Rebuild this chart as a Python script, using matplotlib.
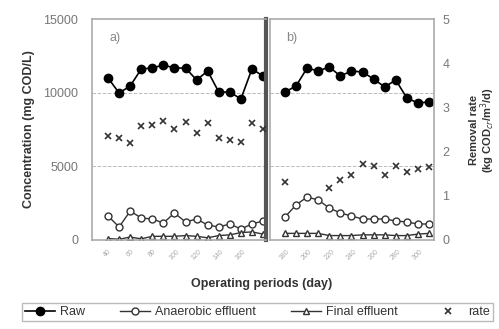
import matplotlib
matplotlib.use("Agg")
import matplotlib.pyplot as plt
import numpy as np

plt.rcParams['font.family'] = ['Liberation Sans', 'DejaVu Sans']

# panel a) data
raw_a = [10995, 9977, 10452, 11606, 11674, 11878, 11674, 11674, 10860, 11470, 10045, 10045, 9570, 11606, 11131]
anaer_a = [1629, 882, 1968, 1493, 1425, 1154, 1833, 1222, 1425, 1018, 882, 1086, 747, 1086, 1290]
final_a = [100, 50, 200, 80, 250, 250, 250, 300, 250, 150, 300, 350, 500, 550, 400]
rate_a = [2.35, 2.31, 2.19, 2.58, 2.60, 2.69, 2.51, 2.67, 2.42, 2.65, 2.31, 2.26, 2.22, 2.65, 2.51]
ticks_a = ["40", "60", "80", "100", "120", "140", "160"]

# panel b) data
raw_b = [10045, 10452, 11674, 11470, 11742, 11131, 11470, 11403, 10928, 10385, 10860, 9638, 9299, 9367]
anaer_b = [1561, 2376, 2919, 2715, 2172, 1833, 1629, 1425, 1425, 1425, 1290, 1222, 1086, 1086]
final_b = [450, 450, 450, 450, 300, 300, 300, 350, 350, 350, 300, 300, 400, 450]
rate_b = [1.31, np.nan, np.nan, np.nan, 1.18, 1.36, 1.47, 1.72, 1.67, 1.47, 1.67, 1.54, 1.61, 1.65]
ticks_b = ["180", "200", "220", "240", "260", "280", "300"]

W, H = 499, 329
fig = plt.figure(figsize=(W / 100, H / 100), dpi=100)
bottom = (H - 240) / H
height = 221 / H
ax1 = fig.add_axes([92 / W, bottom, (266 - 92) / W, height])
ax2 = fig.add_axes([270 / W, bottom, (434 - 270) / W, height])

gray = "#777777"


def draw(ax, raw, anaer, final, rate, ticks, label, xlim, show_right):
    x = np.arange(len(raw))
    ax.plot(x, raw, '-o', color='black', mfc='black', ms=6, lw=1.2, label='Raw')
    ax.plot(x, anaer, '-o', color='#333333', mfc='white', ms=5, lw=1, label='Anaerobic effluent')
    ax.plot(x, final, '-^', color='#333333', mfc='white', ms=4, lw=1, label='Final effluent')
    ax.set_ylim(0, 15000)
    ax.set_xlim(*xlim)
    for v in (5000, 10000):
        ax.axhline(v, color='#bbbbbb', ls='--', lw=0.7, zorder=0)
    ax.set_xticks(x[0:2 * len(ticks):2])
    ax.set_xticklabels(ticks, rotation=45, fontsize=5, color='#aaaaaa')
    ax.tick_params(length=0, pad=6)
    for s in ax.spines.values():
        s.set_color('#aaaaaa')
        s.set_linewidth(1.2)
    ax.text(0.1, 0.9, label, transform=ax.transAxes, fontsize=9, color='#888888')
    tw = ax.twinx()
    tw.plot(x, rate, 'x', color='#333333', ms=4, mew=1.2, ls='none', label='rate')
    tw.set_ylim(0, 5)
    tw.set_xlim(*xlim)
    for s in tw.spines.values():
        s.set_visible(False)
    tw.tick_params(length=0, labelsize=9, labelcolor=gray, pad=6)
    if not show_right:
        tw.set_yticks([])
    return tw


draw(ax1, raw_a, anaer_a, final_a, rate_a, ticks_a, 'a)', (-1.45, 14.27), False)
tw2 = draw(ax2, raw_b, anaer_b, final_b, rate_b, ticks_b, 'b)', (-1.35, 13.45), True)

ax1.spines['right'].set_color('#555555')
ax1.spines['right'].set_linewidth(3)
ax1.set_yticks([0, 5000, 10000, 15000])
ax1.tick_params(axis='y', labelsize=9, labelcolor=gray, pad=10)
ax2.set_yticks([])

ax1.set_ylabel('Concentration (mg COD/L)', fontsize=9, fontweight='bold', color='#333333', labelpad=6)
fig.text(483 / W, 1 - 130 / H, 'Removal rate\n(kg COD$_{cr}$/m$^3$/d)', fontsize=8,
         fontweight='bold', color='#333333', rotation=90, ha='center', va='center',
         linespacing=1.0)
fig.text(262 / W, 1 - 284 / H, 'Operating periods (day)', fontsize=9, fontweight='bold',
         color='#333333', ha='center', va='center')

h1, l1 = ax2.get_legend_handles_labels()
h2, l2 = tw2.get_legend_handles_labels()
leg = fig.legend(h1 + h2, l1 + l2, loc='lower left',
                 bbox_to_anchor=(22 / W, 1 - 321 / H, 471 / W, 21 / H), mode='expand',
                 ncol=4, fontsize=9, frameon=True, fancybox=False, handlelength=2.4,
                 handletextpad=0.4, borderpad=0.25, borderaxespad=0)
leg.get_frame().set_edgecolor('#aaaaaa')
for t in leg.get_texts():
    t.set_color('#333333')

fig.savefig('out.png', dpi=100)
